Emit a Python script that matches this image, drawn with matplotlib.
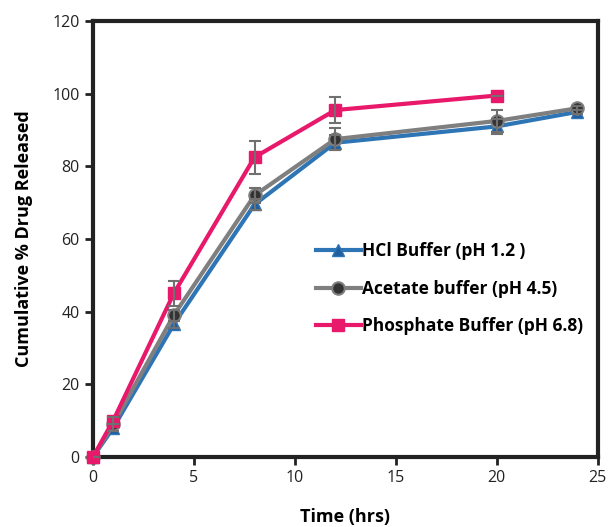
import matplotlib.pyplot as plt
import numpy as np

plt.rcParams['font.family'] = ['Open Sans', 'DejaVu Sans']

# release data (time in hrs, cumulative % released)
time_hcl = [0, 1, 4, 8, 12, 20, 24]
hcl = [0, 8, 36.5, 69.5, 86.5, 91, 95]
hcl_err = [0, 1, 1, 1.5, 2, 2, 0.5]

time_acetate = [0, 1, 4, 8, 12, 20, 24]
acetate = [0, 9, 39, 72, 87.5, 92.5, 96]
acetate_err = [0, 2, 1.5, 2, 3, 3, 0.5]

time_phosphate = [0, 1, 4, 8, 12, 20]
phosphate = [0, 10, 45, 82.5, 95.5, 99.5]
phosphate_err = [0, 1, 3.5, 4.5, 3.5, 0]

fig = plt.figure(figsize=(6.08, 5.27), dpi=100)
ax = fig.add_axes([0.153, 0.133, 0.830, 0.827])

err_kw = dict(fmt='none', ecolor='#707070', elinewidth=1.5, capsize=4, capthick=1.5, zorder=4)

ax.plot(time_hcl, hcl, color='#2e75b6', lw=3, marker='^', ms=9, mfc='#1f5fa0',
        mec='#2e75b6', label='HCl Buffer (pH 1.2 )', clip_on=False, zorder=3)
ax.plot(time_acetate, acetate, color='#7f7f7f', lw=3, marker='o', ms=9, mfc='#333333',
        mec='#7f7f7f', mew=1.5, label='Acetate buffer (pH 4.5)', clip_on=False, zorder=3)
ax.plot(time_phosphate, phosphate, color='#e8186a', lw=3, marker='s', ms=9, mfc='#e8186a',
        mec='#e8186a', label='Phosphate Buffer (pH 6.8)', clip_on=False, zorder=3)

ax.errorbar(time_hcl, hcl, yerr=hcl_err, **err_kw)
ax.errorbar(time_acetate, acetate, yerr=acetate_err, **err_kw)
ax.errorbar(time_phosphate, phosphate, yerr=phosphate_err, **err_kw)

ax.set_xlim(0, 25)
ax.set_ylim(0, 120)
ax.set_xticks(np.arange(0, 26, 5))
ax.set_yticks(np.arange(0, 121, 20))
ax.tick_params(direction='out', length=6, width=2, labelsize=11.5, colors='#222222')
for s in ax.spines.values():
    s.set_linewidth(3)
    s.set_color('#222222')

ax.set_xlabel('Time (hrs)', fontsize=13, fontweight='bold', labelpad=16)
ax.set_ylabel('Cumulative % Drug Released', fontsize=13, fontweight='bold', labelpad=14)

ax.legend(loc='center left', bbox_to_anchor=(0.41, 0.386), frameon=False,
          prop={'weight': 'bold', 'size': 12.5}, handlelength=2.6,
          handletextpad=0.1, labelspacing=1.12)

fig.savefig('out.png', dpi=100)
